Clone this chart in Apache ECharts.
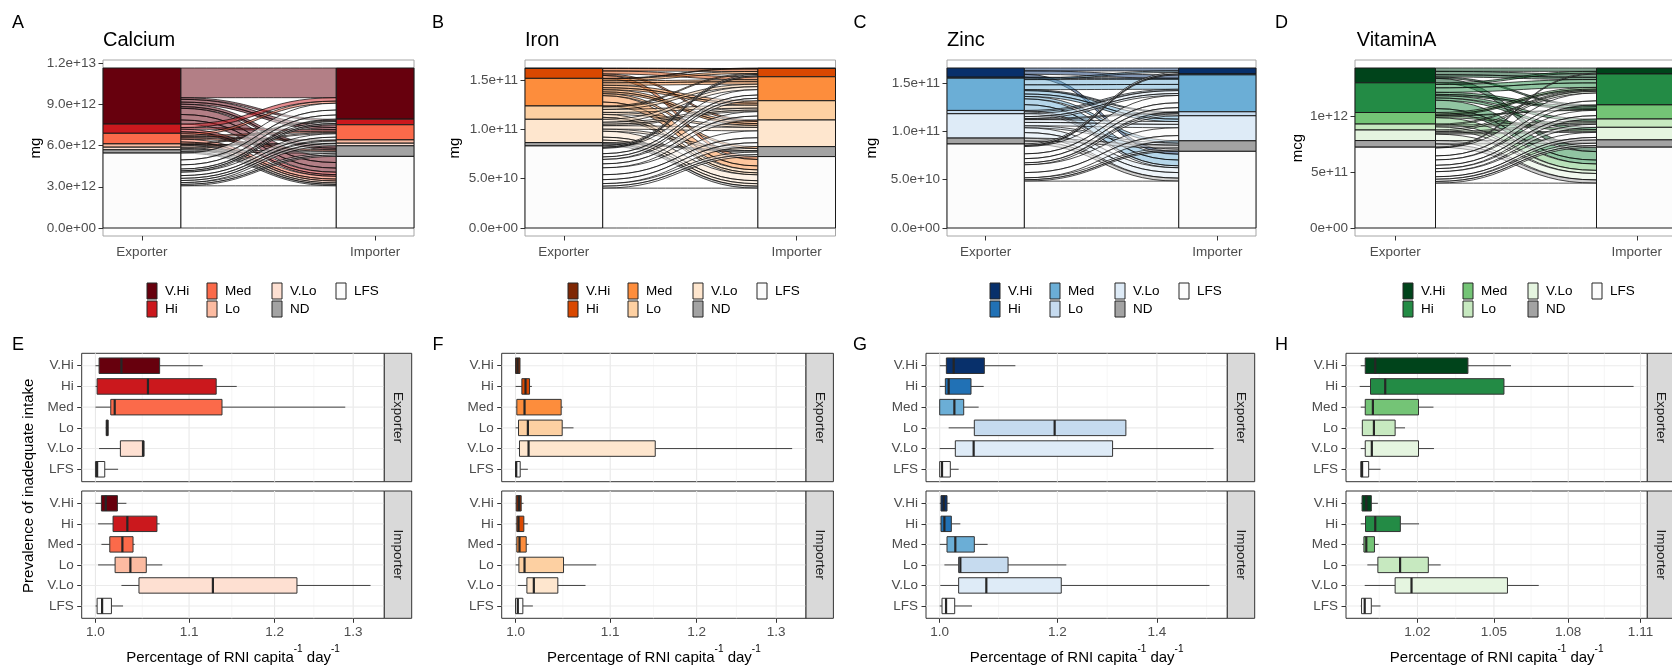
<!DOCTYPE html>
<html>
<head>
<meta charset="utf-8">
<title>Nutrient supply flows and RNI coverage</title>
<script src="https://cdn.jsdelivr.net/npm/echarts@6/dist/echarts.min.js"></script>
<style>
  html, body { margin: 0; padding: 0; background: #ffffff; }
  #chart { width: 1672px; height: 665px; }
</style>
</head>
<body>
<div id="chart"></div>
<script>
// ---------------- data ----------------
// Prevalence-of-inadequate-intake classes, stacked from the top down
const classNames = ['V.Hi', 'Hi', 'Med', 'Lo', 'V.Lo', 'ND', 'LFS'];
const boxClasses = ['V.Hi', 'Hi', 'Med', 'Lo', 'V.Lo', 'LFS'];

// Fill colours per nutrient, in classNames order
const redPalette    = ['#67000d', '#cb181d', '#fb6a4a', '#fcbba1', '#fee0d2', '#a3a3a3', '#fcfcfc'];
const orangePalette = ['#7f2704', '#d94801', '#fd8d3c', '#fdd0a2', '#fee6ce', '#a3a3a3', '#fcfcfc'];
const bluePalette   = ['#08306b', '#2171b5', '#6baed6', '#c6dbef', '#deebf7', '#a3a3a3', '#fcfcfc'];
const greenPalette  = ['#00441b', '#238b45', '#74c476', '#c7e9c0', '#e5f5e0', '#a3a3a3', '#fcfcfc'];

// Country flows: [exporter class, importer class, amount]
const calciumFlows = [
  ['V.Hi', 'V.Hi', 2.16e12], ['V.Hi', 'Hi', 0.12e12], ['V.Hi', 'Med', 0.20e12], ['V.Hi', 'Med', 0.15e12],
  ['V.Hi', 'ND', 0.18e12], ['V.Hi', 'ND', 0.12e12], ['V.Hi', 'LFS', 0.45e12], ['V.Hi', 'LFS', 0.40e12], ['V.Hi', 'LFS', 0.30e12],
  ['Hi', 'V.Hi', 0.25e12], ['Hi', 'Med', 0.12e12], ['Hi', 'LFS', 0.18e12], ['Hi', 'LFS', 0.12e12],
  ['Med', 'V.Hi', 0.15e12], ['Med', 'Med', 0.10e12], ['Med', 'Lo', 0.08e12], ['Med', 'ND', 0.10e12],
  ['Med', 'LFS', 0.20e12], ['Med', 'LFS', 0.14e12],
  ['Lo', 'Hi', 0.06e12], ['Lo', 'V.Lo', 0.04e12], ['Lo', 'LFS', 0.14e12],
  ['V.Lo', 'Med', 0.08e12], ['V.Lo', 'LFS', 0.11e12],
  ['ND', 'ND', 0.14e12], ['ND', 'LFS', 0.10e12],
  ['LFS', 'V.Hi', 0.50e12], ['LFS', 'V.Hi', 0.36e12], ['LFS', 'V.Hi', 0.30e12], ['LFS', 'Hi', 0.13e12], ['LFS', 'Hi', 0.10e12],
  ['LFS', 'Med', 0.25e12], ['LFS', 'Med', 0.20e12], ['LFS', 'Lo', 0.16e12], ['LFS', 'V.Lo', 0.15e12],
  ['LFS', 'ND', 0.13e12], ['LFS', 'ND', 0.10e12], ['LFS', 'LFS', 3.07e12]
];
const ironFlows = [
  ['V.Hi', 'Hi', 0.05e10],
  ['Hi', 'Hi', 0.25e10], ['Hi', 'Med', 0.30e10], ['Hi', 'V.Lo', 0.15e10], ['Hi', 'LFS', 0.30e10],
  ['Med', 'V.Hi', 0.05e10], ['Med', 'Hi', 0.20e10], ['Med', 'Med', 0.20e10], ['Med', 'Med', 0.25e10],
  ['Med', 'Lo', 0.25e10], ['Med', 'Lo', 0.20e10], ['Med', 'V.Lo', 0.22e10], ['Med', 'V.Lo', 0.18e10],
  ['Med', 'ND', 0.20e10], ['Med', 'LFS', 0.65e10], ['Med', 'LFS', 0.40e10],
  ['Lo', 'Hi', 0.10e10], ['Lo', 'Med', 0.25e10], ['Lo', 'Lo', 0.30e10], ['Lo', 'V.Lo', 0.20e10],
  ['Lo', 'LFS', 0.30e10], ['Lo', 'LFS', 0.20e10],
  ['V.Lo', 'Med', 0.30e10], ['V.Lo', 'Lo', 0.20e10], ['V.Lo', 'Lo', 0.15e10], ['V.Lo', 'V.Lo', 0.35e10], ['V.Lo', 'ND', 0.21e10],
  ['V.Lo', 'LFS', 0.60e10], ['V.Lo', 'LFS', 0.30e10], ['V.Lo', 'LFS', 0.25e10],
  ['ND', 'ND', 0.14e10], ['ND', 'LFS', 0.20e10],
  ['LFS', 'Hi', 0.14e10], ['LFS', 'Hi', 0.10e10], ['LFS', 'Med', 0.55e10], ['LFS', 'Med', 0.33e10], ['LFS', 'Med', 0.25e10],
  ['LFS', 'Lo', 0.45e10], ['LFS', 'Lo', 0.40e10], ['LFS', 'V.Lo', 0.70e10], ['LFS', 'V.Lo', 0.50e10],
  ['LFS', 'V.Lo', 0.40e10], ['LFS', 'ND', 0.26e10], ['LFS', 'ND', 0.20e10], ['LFS', 'LFS', 4.04e10]
];
const zincFlows = [
  ['V.Hi', 'V.Hi', 0.30e10], ['V.Hi', 'Med', 0.35e10], ['V.Hi', 'LFS', 0.30e10],
  ['Hi', 'Med', 0.10e10],
  ['Med', 'V.Hi', 0.15e10], ['Med', 'Med', 0.54e10], ['Med', 'Med', 0.50e10], ['Med', 'Lo', 0.10e10],
  ['Med', 'V.Lo', 0.35e10], ['Med', 'V.Lo', 0.25e10], ['Med', 'ND', 0.25e10], ['Med', 'LFS', 0.60e10], ['Med', 'LFS', 0.60e10],
  ['Lo', 'Med', 0.14e10], ['Lo', 'LFS', 0.20e10],
  ['V.Lo', 'Med', 0.30e10], ['V.Lo', 'Med', 0.20e10], ['V.Lo', 'Lo', 0.11e10], ['V.Lo', 'V.Lo', 0.29e10], ['V.Lo', 'V.Lo', 0.35e10],
  ['V.Lo', 'ND', 0.20e10], ['V.Lo', 'LFS', 0.50e10], ['V.Lo', 'LFS', 0.57e10],
  ['ND', 'ND', 0.30e10], ['ND', 'LFS', 0.31e10],
  ['LFS', 'V.Hi', 0.16e10], ['LFS', 'Hi', 0.10e10], ['LFS', 'Med', 0.76e10], ['LFS', 'Med', 0.50e10],
  ['LFS', 'Med', 0.43e10], ['LFS', 'Lo', 0.20e10], ['LFS', 'V.Lo', 0.81e10], ['LFS', 'V.Lo', 0.54e10],
  ['LFS', 'ND', 0.20e10], ['LFS', 'ND', 0.14e10], ['LFS', 'LFS', 4.85e10]
];
const vitaminAFlows = [
  ['V.Hi', 'V.Hi', 0.30e11], ['V.Hi', 'Hi', 0.30e11], ['V.Hi', 'Hi', 0.20e11], ['V.Hi', 'Med', 0.12e11], ['V.Hi', 'LFS', 0.40e11],
  ['Hi', 'V.Hi', 0.15e11], ['Hi', 'Hi', 0.30e11], ['Hi', 'Hi', 0.40e11], ['Hi', 'Med', 0.18e11], ['Hi', 'Med', 0.12e11],
  ['Hi', 'Lo', 0.20e11], ['Hi', 'V.Lo', 0.20e11], ['Hi', 'LFS', 0.75e11], ['Hi', 'LFS', 0.35e11],
  ['Med', 'Hi', 0.15e11], ['Med', 'Hi', 0.10e11], ['Med', 'Med', 0.06e11], ['Med', 'V.Lo', 0.15e11], ['Med', 'LFS', 0.57e11],
  ['Lo', 'Hi', 0.10e11], ['Lo', 'Lo', 0.15e11], ['Lo', 'LFS', 0.28e11],
  ['V.Lo', 'Hi', 0.15e11], ['V.Lo', 'Lo', 0.12e11], ['V.Lo', 'V.Lo', 0.10e11], ['V.Lo', 'LFS', 0.57e11],
  ['ND', 'ND', 0.30e11], ['ND', 'LFS', 0.29e11],
  ['LFS', 'V.Hi', 0.08e11], ['LFS', 'Hi', 0.70e11], ['LFS', 'Hi', 0.36e11], ['LFS', 'Med', 0.48e11],
  ['LFS', 'Med', 0.30e11], ['LFS', 'Lo', 0.27e11], ['LFS', 'V.Lo', 0.45e11], ['LFS', 'V.Lo', 0.22e11],
  ['LFS', 'ND', 0.20e11], ['LFS', 'ND', 0.15e11], ['LFS', 'LFS', 4.00e11]
];

// Mass axis ticks and their labels
const calciumMassTicks = [0, 3e12, 6e12, 9e12, 1.2e13];
const calciumMassLabels = ['0.0e+00', '3.0e+12', '6.0e+12', '9.0e+12', '1.2e+13'];
const ironMassTicks = [0, 5e10, 1e11, 1.5e11];
const ironMassLabels = ['0.0e+00', '5.0e+10', '1.0e+11', '1.5e+11'];
const zincMassTicks = [0, 5e10, 1e11, 1.5e11];
const zincMassLabels = ['0.0e+00', '5.0e+10', '1.0e+11', '1.5e+11'];
const vitaminAMassTicks = [0, 5e11, 1e12];
const vitaminAMassLabels = ['0e+00', '5e+11', '1e+12'];

// Box statistics per class (boxClasses order): [lower whisker, Q1, median, Q3, upper whisker]
const calciumExporterBoxes = [
  [1.000, 1.0037, 1.0268, 1.0675, 1.1154],
  [1.000, 1.0017, 1.0549, 1.1308, 1.1547],
  [1.000, 1.0157, 1.0198, 1.1375, 1.2896],
  [1.0105, 1.011, 1.012, 1.013, 1.0133],
  [1.0037, 1.0257, 1.0496, 1.0507, 1.0507],
  [1.000, 1.000, 1.0017, 1.0095, 1.0233]
];
const calciumImporterBoxes = [
  [1.000, 1.0061, 1.0105, 1.0226, 1.0320],
  [1.0027, 1.0181, 1.0330, 1.0646, 1.0675],
  [1.0061, 1.0147, 1.0278, 1.0390, 1.0408],
  [1.0027, 1.0202, 1.0362, 1.0531, 1.0704],
  [1.0268, 1.0453, 1.1270, 1.2277, 1.3232],
  [1.000, 1.0017, 1.0068, 1.0164, 1.0285]
];
const ironExporterBoxes = [
  [1.000, 1.000, 1.002, 1.0045, 1.0045],
  [1.000, 1.0064, 1.0101, 1.0142, 1.0166],
  [1.000, 1.0013, 1.0091, 1.0470, 1.0488],
  [1.000, 1.0030, 1.0125, 1.0481, 1.0601],
  [1.002, 1.0040, 1.0132, 1.1510, 1.3211],
  [1.000, 1.000, 1.0007, 1.0047, 1.0125]
];
const ironImporterBoxes = [
  [1.000, 1.0007, 1.0034, 1.0057, 1.0081],
  [1.000, 1.0013, 1.0030, 1.0084, 1.0125],
  [1.000, 1.0013, 1.0040, 1.0108, 1.0132],
  [1.000, 1.0034, 1.0091, 1.0495, 1.0846],
  [1.0023, 1.0115, 1.0186, 1.0435, 1.0730],
  [1.000, 1.000, 1.0023, 1.0074, 1.0176]
];
const zincExporterBoxes = [
  [1.000, 1.0104, 1.0219, 1.0716, 1.1244],
  [1.000, 1.0088, 1.0140, 1.0497, 1.0705],
  [1.000, 1.000, 1.0230, 1.0379, 1.0622],
  [1.0140, 1.0551, 1.1949, 1.3343, 1.3343],
  [1.000, 1.0245, 1.0540, 1.3071, 1.5285],
  [1.000, 1.000, 1.0036, 1.0166, 1.0298]
];
const zincImporterBoxes = [
  [1.000, 1.002, 1.0062, 1.0114, 1.0156],
  [1.000, 1.002, 1.0073, 1.0182, 1.0325],
  [1.000, 1.0114, 1.0245, 1.0551, 1.0771],
  [1.0073, 1.0298, 1.0325, 1.1117, 1.2167],
  [1.001, 1.0298, 1.0749, 1.2072, 1.5188],
  [1.000, 1.0036, 1.0099, 1.0235, 1.0513]
];
const vitaminAExporterBoxes = [
  [0.9983, 1.0000, 1.0038, 1.0397, 1.0568],
  [0.9979, 1.0020, 1.0076, 1.0540, 1.1071],
  [0.9983, 1.0000, 1.0029, 1.0204, 1.0262],
  [0.9989, 0.9989, 1.0033, 1.0114, 1.0152],
  [0.9983, 1.0000, 1.0025, 1.0204, 1.0264],
  [0.9983, 0.9983, 0.9988, 1.0013, 1.0058]
];
const vitaminAImporterBoxes = [
  [0.9983, 0.9988, 1.0004, 1.0023, 1.0048],
  [0.9983, 1.0001, 1.0038, 1.0134, 1.0206],
  [0.9988, 0.9995, 1.0004, 1.0035, 1.0051],
  [1.0008, 1.0048, 1.0133, 1.0242, 1.0290],
  [0.9998, 1.0114, 1.0177, 1.0554, 1.0680],
  [0.9983, 0.9986, 0.9998, 1.0023, 1.0058]
];

// RNI axis breaks (log10 scale) and labels
const calciumRniTicks = [1.0, 1.1, 1.2, 1.3];
const calciumRniLabels = ['1.0', '1.1', '1.2', '1.3'];
const ironRniTicks = [1.0, 1.1, 1.2, 1.3];
const ironRniLabels = ['1.0', '1.1', '1.2', '1.3'];
const zincRniTicks = [1.0, 1.2, 1.4];
const zincRniLabels = ['1.0', '1.2', '1.4'];
const vitaminARniTicks = [1.02, 1.05, 1.08, 1.11];
const vitaminARniLabels = ['1.02', '1.05', '1.08', '1.11'];

// ---------------- layout & style ----------------
const FONT = "'Liberation Sans', Arial, Helvetica, sans-serif";
const TICK_TEXT = '#4d4d4d';
const topGridLayout = [
  { left: 103, width: 311 }, { left: 525, width: 310.5 }, { left: 947, width: 309 }, { left: 1355, width: 322 }
];
const topRow = { top: 60, height: 176 };
const bottomGridLayout = [
  { left: 81.7, width: 302.6 }, { left: 501.7, width: 304.3 }, { left: 926, width: 301.3 }, { left: 1346, width: 301.3 }
];
const facetRows = [{ top: 353.3, height: 128.4 }, { top: 491, height: 127.3 }];
const stripWidth = 27.4;
const panelLetterX = [18, 438, 860, 1281.5];
const titleX = [103, 525, 947, 1356.7];
const unitTitleX = [36, 455, 872, 1298];
const legendX = [147, 568, 990, 1403];
const legendColumnOffsets = [0, 60, 125, 189];
const legendRowY = [291, 309];

const nutrients = [
  { title: 'Calcium', unit: 'mg', letters: ['A', 'E'], palette: redPalette, flows: calciumFlows,
    massTicks: calciumMassTicks, massLabels: calciumMassLabels,
    boxes: [calciumExporterBoxes, calciumImporterBoxes], rniTicks: calciumRniTicks, rniLabels: calciumRniLabels },
  { title: 'Iron', unit: 'mg', letters: ['B', 'F'], palette: orangePalette, flows: ironFlows,
    massTicks: ironMassTicks, massLabels: ironMassLabels,
    boxes: [ironExporterBoxes, ironImporterBoxes], rniTicks: ironRniTicks, rniLabels: ironRniLabels },
  { title: 'Zinc', unit: 'mg', letters: ['C', 'G'], palette: bluePalette, flows: zincFlows,
    massTicks: zincMassTicks, massLabels: zincMassLabels,
    boxes: [zincExporterBoxes, zincImporterBoxes], rniTicks: zincRniTicks, rniLabels: zincRniLabels },
  { title: 'VitaminA', unit: 'mcg', letters: ['D', 'H'], palette: greenPalette, flows: vitaminAFlows,
    massTicks: vitaminAMassTicks, massLabels: vitaminAMassLabels,
    boxes: [vitaminAExporterBoxes, vitaminAImporterBoxes], rniTicks: vitaminARniTicks, rniLabels: vitaminARniLabels }
];

// ---------------- helpers ----------------
function withAlpha(hex, a) {
  const n = parseInt(hex.slice(1), 16);
  return 'rgba(' + ((n >> 16) & 255) + ',' + ((n >> 8) & 255) + ',' + (n & 255) + ',' + a + ')';
}
function nearestLabel(ticks, labels) {
  return function (v) {
    let best = 0;
    ticks.forEach(function (t, i) { if (Math.abs(t - v) < Math.abs(ticks[best] - v)) best = i; });
    return labels[best];
  };
}

// Stack lodes on both axes: within a stratum, flows are ordered by the class on the other axis
function stackAlluvium(flows) {
  const ci = function (c) { return classNames.indexOf(c); };
  const ids = flows.map(function (_, i) { return i; });
  const total = flows.reduce(function (s, f) { return s + f[2]; }, 0);
  const leftOrder = ids.slice().sort(function (a, b) {
    return ci(flows[a][0]) - ci(flows[b][0]) || ci(flows[a][1]) - ci(flows[b][1]) || a - b;
  });
  const rightOrder = ids.slice().sort(function (a, b) {
    return ci(flows[a][1]) - ci(flows[b][1]) || ci(flows[a][0]) - ci(flows[b][0]) || a - b;
  });
  const left = [], right = [];
  let top = total;
  leftOrder.forEach(function (i) { left[i] = [top - flows[i][2], top]; top -= flows[i][2]; });
  top = total;
  rightOrder.forEach(function (i) { right[i] = [top - flows[i][2], top]; top -= flows[i][2]; });
  const flowItems = ids.map(function (i) {
    return [left[i][0], left[i][1], right[i][0], right[i][1], ci(flows[i][0])];
  });
  const strata = [];
  [0, 1].forEach(function (side) {
    let t = total;
    classNames.forEach(function (name, c) {
      const v = flows.filter(function (f) { return f[side] === name; }).reduce(function (s, f) { return s + f[2]; }, 0);
      if (v > 0) strata.push([side + 1, t - v, t, c]);
      t -= v;
    });
  });
  return { total: total, flowItems: flowItems, strata: strata };
}

function flowRenderer(palette) {
  return function (params, api) {
    const xa = 1 + 1 / 6, xb = 2 - 1 / 6;
    const tl = api.coord([xa, api.value(1)]), bl = api.coord([xa, api.value(0)]);
    const tr = api.coord([xb, api.value(3)]), br = api.coord([xb, api.value(2)]);
    const xm = (tl[0] + tr[0]) / 2;
    const d = 'M' + tl[0] + ',' + tl[1] + ' C' + xm + ',' + tl[1] + ' ' + xm + ',' + tr[1] + ' ' + tr[0] + ',' + tr[1] +
      ' L' + br[0] + ',' + br[1] + ' C' + xm + ',' + br[1] + ' ' + xm + ',' + bl[1] + ' ' + bl[0] + ',' + bl[1] + ' Z';
    return {
      type: 'path',
      shape: { pathData: d },
      style: { fill: withAlpha(palette[api.value(4)], 0.5), stroke: 'rgba(10,10,10,0.72)', lineWidth: 1 }
    };
  };
}
function stratumRenderer(palette) {
  return function (params, api) {
    const side = api.value(0);
    const p0 = api.coord([side - 1 / 6, api.value(2)]);
    const p1 = api.coord([side + 1 / 6, api.value(1)]);
    return {
      type: 'rect',
      shape: { x: p0[0], y: p0[1], width: p1[0] - p0[0], height: p1[1] - p0[1] },
      style: { fill: palette[api.value(3)], stroke: '#1a1a1a', lineWidth: 1 }
    };
  };
}
function boxRenderer(palette) {
  return function (params, api) {
    const y = api.value(0);
    const c = api.value(6);
    const half = api.size([0, 0.375])[1];
    const pLo = api.coord([api.value(1), y]), pQ1 = api.coord([api.value(2), y]);
    const pMe = api.coord([api.value(3), y]), pQ3 = api.coord([api.value(4), y]);
    const pHi = api.coord([api.value(5), y]);
    const ws = { stroke: '#404040', lineWidth: 1 };
    return {
      type: 'group',
      children: [
        { type: 'line', shape: { x1: pLo[0], y1: pLo[1], x2: pQ1[0], y2: pQ1[1] }, style: ws },
        { type: 'line', shape: { x1: pQ3[0], y1: pQ3[1], x2: pHi[0], y2: pHi[1] }, style: ws },
        { type: 'rect', shape: { x: pQ1[0], y: pQ1[1] - half, width: Math.max(pQ3[0] - pQ1[0], 0.5), height: 2 * half },
          style: { fill: palette[c], stroke: '#333333', lineWidth: 1 } },
        { type: 'line', shape: { x1: pMe[0], y1: pMe[1] - half, x2: pMe[0], y2: pMe[1] + half },
          style: { stroke: '#262626', lineWidth: 2.2 } }
      ]
    };
  };
}
function gridLineRenderer(params, api) {
  const kind = api.value(0), v = api.value(1);
  const cs = params.coordSys;
  if (kind === 2) {
    const py = api.coord([0, v])[1];
    return { type: 'line', shape: { x1: cs.x, y1: py, x2: cs.x + cs.width, y2: py },
      style: { stroke: '#ebebeb', lineWidth: 1.1 } };
  }
  const px = api.coord([v, 1])[0];
  return { type: 'line', shape: { x1: px, y1: cs.y, x2: px, y2: cs.y + cs.height },
    style: { stroke: kind === 1 ? '#f2f2f2' : '#e8e8e8', lineWidth: kind === 1 ? 0.7 : 1.1 } };
}

// ---------------- build option ----------------
const grids = [], xAxes = [], yAxes = [], series = [], graphics = [];
const hiddenLine = { show: false, onZero: false };

nutrients.forEach(function (nut, k) {
  // alluvial panel
  const alluv = stackAlluvium(nut.flows);
  const g = topGridLayout[k];
  grids.push({ left: g.left, width: g.width, top: topRow.top, height: topRow.height, show: true,
    borderColor: '#a6a6a6', borderWidth: 1, backgroundColor: 'transparent', outerBoundsMode: 'none' });
  const gi = grids.length - 1;
  xAxes.push({
    gridIndex: gi, type: 'value', min: 5 / 6, max: 13 / 6,
    axisLine: hiddenLine, splitLine: { show: false },
    axisTick: { show: true, customValues: [1, 2], length: 4.5, lineStyle: { color: '#333333' } },
    axisLabel: { customValues: [1, 2], formatter: function (v) { return v < 1.5 ? 'Exporter' : 'Importer'; },
      color: TICK_TEXT, fontSize: 13.5, margin: 9, fontFamily: FONT }
  });
  yAxes.push({
    gridIndex: gi, type: 'value', min: -0.05 * alluv.total, max: 1.05 * alluv.total,
    axisLine: hiddenLine, splitLine: { show: false },
    axisTick: { show: true, customValues: nut.massTicks, length: 4.5, lineStyle: { color: '#333333' } },
    axisLabel: { customValues: nut.massTicks, formatter: nearestLabel(nut.massTicks, nut.massLabels),
      color: TICK_TEXT, fontSize: 13.5, margin: 7, fontFamily: FONT }
  });
  series.push({ type: 'custom', xAxisIndex: gi, yAxisIndex: gi, z: 2, silent: true,
    data: alluv.flowItems, renderItem: flowRenderer(nut.palette) });
  series.push({ type: 'custom', xAxisIndex: gi, yAxisIndex: gi, z: 3, silent: true,
    data: alluv.strata, renderItem: stratumRenderer(nut.palette) });

  // panel letter, title, unit
  graphics.push({ type: 'text', x: panelLetterX[k], y: 23, z: 20,
    style: { text: nut.letters[0], font: '18px ' + FONT, fill: '#000', align: 'center', verticalAlign: 'middle',
      textAlign: 'center', textVerticalAlign: 'middle' } });
  graphics.push({ type: 'text', x: titleX[k], y: 40, z: 20,
    style: { text: nut.title, font: '20px ' + FONT, fill: '#000', align: 'left', verticalAlign: 'middle',
      textAlign: 'left', textVerticalAlign: 'middle' } });
  graphics.push({ type: 'text', x: unitTitleX[k], y: topRow.top + topRow.height / 2, rotation: Math.PI / 2, z: 20,
    style: { text: nut.unit, font: '15px ' + FONT, fill: '#000', align: 'center', verticalAlign: 'middle',
      textAlign: 'center', textVerticalAlign: 'middle' } });

  // legend (two rows, filled column by column)
  classNames.forEach(function (name, i) {
    const col = Math.floor(i / 2), row = i % 2;
    const x = legendX[k] + legendColumnOffsets[col];
    const yc = legendRowY[row];
    graphics.push({ type: 'rect', z: 20, shape: { x: x, y: yc - 8, width: 10, height: 16 },
      style: { fill: nut.palette[i], stroke: '#262626', lineWidth: 1 } });
    graphics.push({ type: 'text', x: x + 18, y: yc, z: 20,
      style: { text: name, font: '13.5px ' + FONT, fill: '#000', align: 'left', verticalAlign: 'middle',
        textAlign: 'left', textVerticalAlign: 'middle' } });
  });

  // boxplot facets, shared log10 x scale
  const all = nut.boxes[0].concat(nut.boxes[1]);
  const lo = Math.log10(Math.min.apply(null, all.map(function (r) { return r[0]; })));
  const hi = Math.log10(Math.max.apply(null, all.map(function (r) { return r[4]; })));
  const pad = 0.05 * (hi - lo);
  const xMin = lo - pad, xMax = hi + pad;
  const majors = nut.rniTicks.map(function (t) { return Math.log10(t); });
  const step = majors[1] - majors[0];
  const ext = [majors[0] - step].concat(majors, [majors[majors.length - 1] + (majors[majors.length - 1] - majors[majors.length - 2])]);
  const minors = [];
  for (let i = 0; i < ext.length - 1; i++) {
    const m = (ext[i] + ext[i + 1]) / 2;
    if (m > xMin && m < xMax) minors.push(m);
  }
  const b = bottomGridLayout[k];
  [0, 1].forEach(function (f) {
    const row = facetRows[f];
    grids.push({ left: b.left, width: b.width, top: row.top, height: row.height, show: true,
      borderColor: '#333333', borderWidth: 1, backgroundColor: 'transparent', outerBoundsMode: 'none' });
    const bi = grids.length - 1;
    const isBottom = f === 1;
    xAxes.push({
      gridIndex: bi, type: 'value', min: xMin, max: xMax, position: 'bottom',
      axisLine: hiddenLine, splitLine: { show: false },
      axisTick: { show: isBottom, customValues: majors, length: 4.5, lineStyle: { color: '#333333' } },
      axisLabel: { show: isBottom, customValues: majors, formatter: nearestLabel(majors, nut.rniLabels),
        color: TICK_TEXT, fontSize: 13.5, margin: 7, fontFamily: FONT }
    });
    yAxes.push({
      gridIndex: bi, type: 'value', min: 0.4, max: 6.6, inverse: true,
      axisLine: hiddenLine, splitLine: { show: false },
      axisTick: { show: true, customValues: [1, 2, 3, 4, 5, 6], length: 4.5, lineStyle: { color: '#333333' } },
      axisLabel: { customValues: [1, 2, 3, 4, 5, 6],
        formatter: function (v) { return boxClasses[Math.round(v) - 1]; },
        color: TICK_TEXT, fontSize: 13.5, margin: 8, fontFamily: FONT }
    });
    const gridData = majors.map(function (v) { return [0, v]; })
      .concat(minors.map(function (v) { return [1, v]; }))
      .concat([1, 2, 3, 4, 5, 6].map(function (v) { return [2, v]; }));
    series.push({ type: 'custom', xAxisIndex: bi, yAxisIndex: bi, z: 1, silent: true,
      data: gridData, renderItem: gridLineRenderer });
    const boxData = nut.boxes[f].map(function (r, i) {
      return [i + 1].concat(r.map(function (v) { return Math.log10(v); }), [classNames.indexOf(boxClasses[i])]);
    });
    series.push({ type: 'custom', xAxisIndex: bi, yAxisIndex: bi, z: 2, silent: true,
      data: boxData, renderItem: boxRenderer(nut.palette) });

    // facet strip
    graphics.push({ type: 'rect', z: 5, shape: { x: b.left + b.width, y: row.top, width: stripWidth, height: row.height },
      style: { fill: '#d9d9d9', stroke: '#333333', lineWidth: 1 } });
    graphics.push({ type: 'text', z: 20, x: b.left + b.width + stripWidth / 2, y: row.top + row.height / 2,
      rotation: -Math.PI / 2,
      style: { text: f === 0 ? 'Exporter' : 'Importer', font: '13.5px ' + FONT, fill: '#1a1a1a',
        align: 'center', verticalAlign: 'middle', textAlign: 'center', textVerticalAlign: 'middle' } });
  });

  graphics.push({ type: 'text', x: panelLetterX[k], y: 345, z: 20,
    style: { text: nut.letters[1], font: '18px ' + FONT, fill: '#000', align: 'center', verticalAlign: 'middle',
      textAlign: 'center', textVerticalAlign: 'middle' } });
  graphics.push({ type: 'text', x: b.left + b.width / 2, y: 655, z: 20,
    style: {
      text: '{t|Percentage of RNI capita}{s|-1}{t| day}{s|-1}',
      align: 'center', verticalAlign: 'middle', textAlign: 'center', textVerticalAlign: 'middle',
      rich: {
        t: { fontSize: 15, fontFamily: FONT, fill: '#000', color: '#000', lineHeight: 21, verticalAlign: 'bottom' },
        s: { fontSize: 10, fontFamily: FONT, fill: '#000', color: '#000', lineHeight: 11, verticalAlign: 'top' }
      }
    } });
});

// y-axis title shared by both boxplot facets of the first column
graphics.push({ type: 'text', x: 29, y: (facetRows[0].top + facetRows[1].top + facetRows[1].height) / 2,
  rotation: Math.PI / 2, z: 20,
  style: { text: 'Prevalence of inadequate intake', font: '15px ' + FONT, fill: '#000',
    align: 'center', verticalAlign: 'middle', textAlign: 'center', textVerticalAlign: 'middle' } });

const chart = echarts.init(document.getElementById('chart'), null, { renderer: 'canvas', width: 1672, height: 665 });
chart.setOption({
  animation: false,
  backgroundColor: '#ffffff',
  textStyle: { fontFamily: FONT },
  grid: grids,
  xAxis: xAxes,
  yAxis: yAxes,
  series: series,
  graphic: { elements: graphics }
});
</script>
</body>
</html>
